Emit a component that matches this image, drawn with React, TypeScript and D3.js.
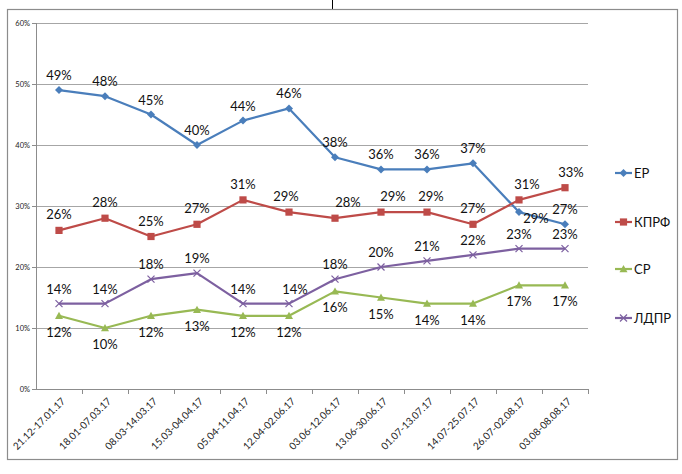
import React from "react";
import * as d3 from "d3";

const categories = [
  "21.12-17.01.17", "18.01-07.03.17", "08.03-14.03.17", "15.03-04.04.17",
  "05.04-11.04.17", "12.04-02.06.17", "03.06-12.06.17", "13.06-30.06.17",
  "01.07-13.07.17", "14.07-25.07.17", "26.07-02.08.17", "03.08-08.08.17",
];
const seriesNames = ["ЕР", "КПРФ", "СР", "ЛДПР"];
const erValues = [49, 48, 45, 40, 44, 46, 38, 36, 36, 37, 29, 27];
const kprfValues = [26, 28, 25, 27, 31, 29, 28, 29, 29, 27, 31, 33];
const srValues = [12, 10, 12, 13, 12, 12, 16, 15, 14, 14, 17, 17];
const ldprValues = [14, 14, 18, 19, 14, 14, 18, 20, 21, 22, 23, 23];
const yTicks = [0, 10, 20, 30, 40, 50, 60];

const W = 682, H = 474;
const left = 36, right = 588, top = 23, bottom = 389;
const FONT = "Lato, 'Open Sans', sans-serif";

const colors = ["#4A7EBB", "#BE4B48", "#98B954", "#7D60A0"];
const markers = ["diamond", "square", "triangle", "x"];
// label placement: dy (vertical), and per-index horizontal adjustments
const labelDy = [-15, -16, 16, -15];
const labelDx: Record<string, number> = {
  "1-5": -3, "1-6": 13, "1-7": 12, "1-8": 4, "1-10": 8, "1-11": 6, "3-5": 6,
};

function Marker({ type, x, y, color }: { type: string; x: number; y: number; color: string }) {
  if (type === "diamond") {
    const s = 4;
    return <path d={`M${x},${y - s}L${x + s},${y}L${x},${y + s}L${x - s},${y}Z`} fill={color} />;
  }
  if (type === "square") {
    const s = 3.6;
    return <rect x={x - s} y={y - s} width={2 * s} height={2 * s} fill={color} />;
  }
  if (type === "triangle") {
    const s = 4;
    return <path d={`M${x},${y - s}L${x + s},${y + s * 0.8}L${x - s},${y + s * 0.8}Z`} fill={color} />;
  }
  const s = 3.5;
  return (
    <g stroke={color} strokeWidth={1.2}>
      <line x1={x - s} y1={y - s} x2={x + s} y2={y + s} />
      <line x1={x - s} y1={y + s} x2={x + s} y2={y - s} />
    </g>
  );
}

export default function App() {
  const x = d3.scaleBand<string>().domain(categories).range([left, right]);
  const y = d3.scaleLinear().domain([0, 60]).range([bottom, top]);
  const cx = (c: string) => (x(c) as number) + x.bandwidth() / 2;
  const allSeries = [erValues, kprfValues, srValues, ldprValues];
  const line = d3
    .line<number>()
    .x((_, i) => cx(categories[i]))
    .y((d) => y(d));
  const legendY = [173, 222, 269, 318];

  return (
    <svg width={W} height={H} style={{ position: "absolute", left: 0, top: 0, background: "#fff" }}>
      <rect x={0} y={0} width={W} height={H} fill="#fff" />
      <line x1={332.5} y1={0} x2={332.5} y2={9} stroke="#000" strokeWidth={1} />
      <rect x={7.5} y={9.5} width={670} height={450} fill="none" stroke="#8c8c8c" strokeWidth={1.2} />
      {yTicks.map((t) => (
        <g key={t}>
          {t > 0 && (
            <line x1={left} x2={right} y1={y(t) + 0.5} y2={y(t) + 0.5} stroke="#a6a6a6" strokeWidth={1.2} />
          )}
          <line x1={left - 4} x2={left} y1={y(t) + 0.5} y2={y(t) + 0.5} stroke="#8c8c8c" />
          <text x={left - 6} y={y(t)} fontSize={7.5} fontFamily={FONT} textAnchor="end" dominantBaseline="central" fill="#222">
            {t}%
          </text>
        </g>
      ))}
      <line x1={left + 0.5} x2={left + 0.5} y1={top} y2={bottom} stroke="#8c8c8c" />
      <line x1={left} x2={right} y1={bottom + 0.5} y2={bottom + 0.5} stroke="#8c8c8c" />
      {categories.map((c, i) => (
        <line key={"t" + i} x1={(x(c) as number) + x.bandwidth() + 0.5} x2={(x(c) as number) + x.bandwidth() + 0.5} y1={bottom} y2={bottom + 5} stroke="#8c8c8c" />
      ))}
      {categories.map((c) => (
        <text
          key={c}
          transform={`translate(${cx(c) + 4},${bottom + 10}) rotate(-45)`}
          fontSize={10}
          fontFamily={FONT}
          textAnchor="end"
          dominantBaseline="central"
          fill="#222"
        >
          {c}
        </text>
      ))}
      {allSeries.map((vals, si) => (
        <g key={si}>
          <path d={line(vals) as string} fill="none" stroke={colors[si]} strokeWidth={2.2} strokeLinejoin="round" />
          {vals.map((v, i) => (
            <Marker key={i} type={markers[si]} x={cx(categories[i])} y={y(v)} color={colors[si]} />
          ))}
        </g>
      ))}
      {allSeries.map((vals, si) =>
        vals.map((v, i) => {
          let dx = labelDx[`${si}-${i}`] ?? 0;
          let dy = labelDy[si];
          if (si === 0 && i === 10) {
            dx = 17;
            dy = 6;
          }
          return (
            <text
              key={`l${si}-${i}`}
              x={cx(categories[i]) + dx}
              y={y(v) + dy}
              fontSize={13}
              fontFamily={FONT}
              textAnchor="middle"
              dominantBaseline="central"
              fill="#111"
            >
              {v}%
            </text>
          );
        })
      )}
      {seriesNames.map((n, si) => (
        <g key={n}>
          <line x1={615} x2={632} y1={legendY[si]} y2={legendY[si]} stroke={colors[si]} strokeWidth={2.2} />
          <Marker type={markers[si]} x={623.5} y={legendY[si]} color={colors[si]} />
          <text x={634} y={legendY[si]} fontSize={13} fontFamily={FONT} dominantBaseline="central" fill="#111">
            {n}
          </text>
        </g>
      ))}
    </svg>
  );
}
